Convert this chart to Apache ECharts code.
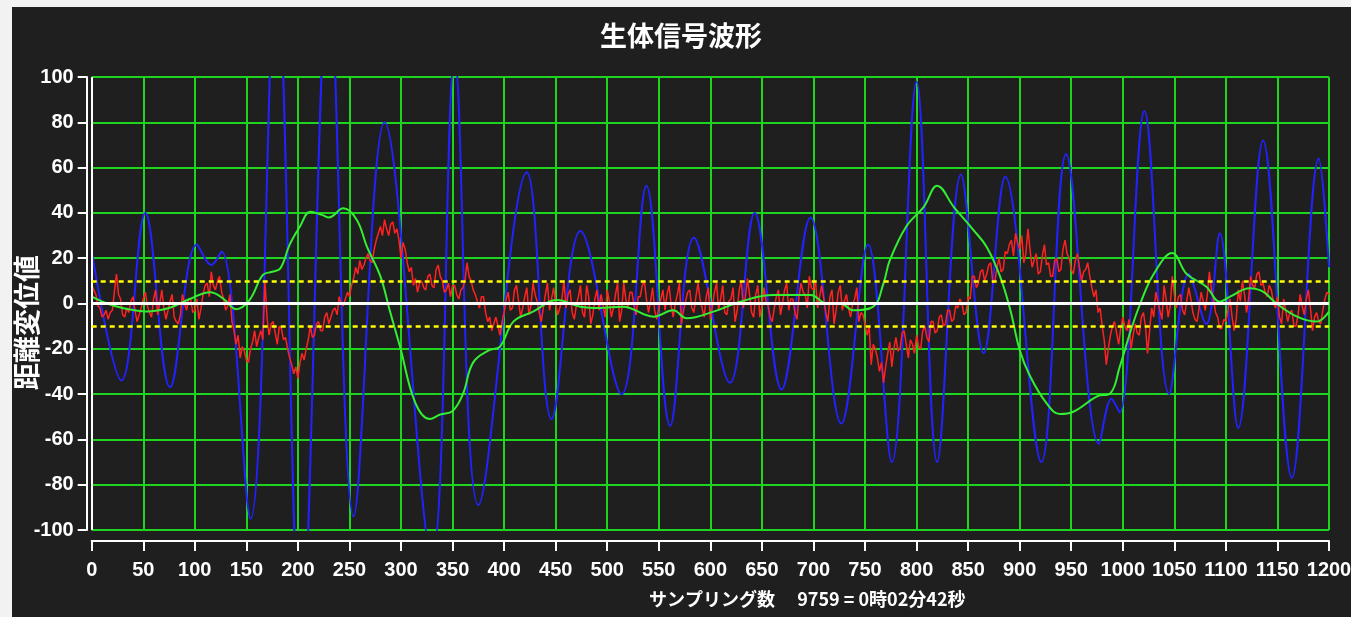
<!DOCTYPE html>
<html>
<head>
<meta charset="utf-8">
<script src="https://cdn.jsdelivr.net/npm/echarts@6/dist/echarts.min.js"></script>
<style>
html,body{margin:0;padding:0;background:#f2f2f2;}
#c{width:1351px;height:617px;}
</style>
</head>
<body>
<div id="c"></div>
<script>
// ---- data ----
const titleText = '生体信号波形';
const yName = '距離変位値';
const xName = 'サンプリング数　 9759 = 0時02分42秒';
const xMin = 0, xMax = 1200, xStep = 50;
const yMin = -100, yMax = 100, yStep = 20;
const zeroLine = 0;
const limitLines = [10, -10];

// blue: [sample, value] at turning points
const blue = [
  [0,23],[29,-34],[52,40],[76,-37],[102,26],[116,17],[126,23],[154,-95],[179,150],[203,-150],
  [230,145],[254,-94],[284,80],[330,-112],[352,108],[375,-89],[422,58],[446,-51],[474,32],[514,-40],
  [538,52],[561,-54],[584,29],[619,-35],[643,40],[669,-38],[697,38],[727,-53],[753,26],[776,-70],
  [800,98],[820,-70],[843,57],[865,-22],[886,56],[921,-70],[945,66],[977,-62],[989,-42],[997,-48],
  [1021,85],[1045,-40],[1064,13],[1081,-9],[1094,31],[1112,-55],[1136,72],[1164,-77],[1190,64],[1200,16]
];

// green: [sample, value]
const green = [
  [0,3],[15,0],[30,-2],[53,-3.5],[75,-2],[95,2],[115,5],[128,2],[140,-2.5],[153,1.5],[166,12.6],[175,14],
  [183,15.5],[192,26],[202,34],[212,40.5],[224,39],[230,38],[244,42],[257,37],[267,25],[280,12],[289,-3],
  [299,-19],[314,-44],[328,-51],[338,-49],[350,-47.5],[360,-40],[370,-26],[386,-20.5],[396,-19],[409,-8],
  [428,-3.6],[451,1.5],[474,-1.4],[493,-2],[515,-1.4],[545,-5.8],[564,-3],[577,-6.5],[603,-3.6],[629,0.8],
  [661,3.7],[697,3.7],[713,0],[726,0],[739,-3],[758,-1.4],[768,9],[774,19],[790,34],[807,42.7],[820,52],
  [836,42.7],[855,32.5],[868,25],[881,12],[891,-3],[900,-20.5],[910,-32],[926,-44],[939,-48.8],[952,-47.8],
  [975,-41],[988,-39.6],[997,-28],[1007,-13],[1017,0],[1030,13],[1048,22.3],[1062,13],[1081,7.4],[1094,0.8],
  [1104,3],[1123,6.7],[1136,5.2],[1149,0],[1169,-5.8],[1188,-8],[1200,-3.6]
];

// red: one value every redStep samples (0..1200)
const redStep = 2;
const red = [
  8,6,4,-1,-2,-6,-5,-3,-7,-4, -3,5,13,4,2,-5,-6,-2,-4,1, 3,-3,-8,-5,-2,2,5,-1,-4,-6, 2,6,-5,0,6,-2,-7,-3,1,4, -6,-8,-9,-5,4,0,-3,2,2,-4,
  -3,2,-7,-2,4,8,9,3,14,8, 6,10,12,5,2,-3,-1,4,-8,-12, -18,-14,-24,-19,-21,-25,-26,-20,-17,-12, -19,-15,-12,-16,10,-6,-14,-9,-8,-13, -18,-10,-11,-16,-15,-20,-24,-27,-31,-28,
  -33,-26,-22,-25,-20,-16,-10,-15,-14,-9, -8,-12,-12,-6,-4,-9,-6,-3,-2,-5, 3,0,-1,2,5,3,8,11,16,13, 19,15,17,20,22,19,18,24,28,31, 34,30,37,33,30,35,36,31,33,28,
  20,27,24,18,14,16,8,11,5,9, 10,7,6,12,13,8,7,15,17,12, 10,5,6,9,3,8,8,4,2,6, 7,10,18,12,10,6,4,1,-2,3, 3,-4,-8,-6,-12,-9,-6,-10,-14,-8,
  -4,2,5,-3,-2,6,8,1,-6,-2, 3,7,-5,-1,9,4,1,-4,-8,-2, 4,9,-3,2,7,0,-5,-2,2,10, -2,4,6,-4,-7,-1,3,8,-4,-6, 8,3,-9,-5,2,6,-3,4,-1,-6,
  6,1,-6,-2,4,9,-8,-3,9,2, -2,5,5,-1,-5,3,3,8,10,2, -4,1,7,-3,-7,-2,2,6,-3,4, 8,-1,-6,0,4,9,-9,-3,1,5, 6,-2,-4,3,9,2,-2,-6,3,7,
  -7,-1,5,9,-3,2,8,-4,-5,1, 2,7,-8,-3,6,10,-2,3,11,4, -4,-6,4,8,-6,-1,7,1,-1,-6, -8,-2,3,6,-5,0,6,9,-3,2, 2,-4,-7,3,9,5,4,-2,12,7,
  6,10,-2,3,8,2,-4,-8,3,6, -9,-3,5,8,-3,1,4,-2,-6,0, 2,7,-8,-4,-5,-9,-14,-10,-27,-18, -20,-24,-30,-26,-35,-28,-22,-17,-28,-20, -15,-21,-20,-13,-12,-18,-24,-16,-18,-22,
  -14,-19,-20,-12,-10,-15,-17,-8,-8,-13, -12,-6,-5,-10,-9,-3,-3,-8,-7,-1, -2,2,0,-5,-4,3,2,12,12,7, 9,14,15,10,13,17,18,9,10,16, 20,14,15,23,22,26,28,21,31,27,
  24,30,18,22,33,24,16,19,22,13, 14,21,26,17,18,12,12,19,20,14, 15,24,28,22,20,15,13,19,22,16, 10,14,15,18,12,7,3,6,-4,-2, -10,-16,-27,-20,-14,-10,-8,-13,-18,-11,
  -6,-10,-12,-7,-20,-14,-9,-13,-14,-6, -4,-10,-22,-12,-2,-6,5,1,-3,-7, 8,2,-6,-1,12,4,-2,3,4,-3, -5,1,7,2,-4,-7,-8,-2,5,1, -3,4,14,6,2,-4,-6,-11,-11,-7,
  -8,-3,2,-6,-12,-7,6,1,10,4, -4,2,12,8,7,13,14,8,9,5, 3,8,6,1,-2,3,-6,-9,2,-3, -8,-4,-3,-10,-10,-5,4,-1,-5,2, 6,-2,-12,-6,-4,-8,-9,-3,2,5,
  4
];

// ---- chart ----
const chart = echarts.init(document.getElementById('c'));
const axisFont = {color:'#ffffff', fontFamily:'"Liberation Sans",Arial,sans-serif', fontWeight:'bold', fontSize:20};
const gridGreen = '#1fd41f';

chart.setOption({
  backgroundColor:'#f2f2f2',
  animation:false,
  graphic:[{type:'rect', left:12, top:7, shape:{width:1339, height:610}, style:{fill:'#1f1f1f'}, z:-10, silent:true}],
  title:{
    text:titleText, left:681, top:22, textAlign:'center', padding:0,
    textStyle:{color:'#ffffff', fontSize:27, fontWeight:'bold', fontFamily:'"Noto Sans CJK JP",sans-serif'}
  },
  grid:{left:91.7, right:22, top:77, bottom:87, containLabel:false, outerBoundsMode:'none'},
  xAxis:{
    type:'value', min:xMin, max:xMax, interval:xStep, offset:11,
    name:xName, nameLocation:'middle', nameGap:49, nameMoveOverlap:false,
    nameTextStyle:{color:'#ffffff', fontSize:18, fontWeight:'bold', fontFamily:'"Noto Sans CJK JP",sans-serif', padding:[0,0,0,194]},
    axisLine:{show:true, onZero:false, lineStyle:{color:'#ffffff', width:2}},
    axisTick:{show:true, length:10, lineStyle:{color:'#ffffff', width:2}},
    axisLabel:Object.assign({margin:19, hideOverlap:false, showMinLabel:true, showMaxLabel:true, formatter:v=>String(v)}, axisFont),
    splitLine:{show:true, lineStyle:{color:gridGreen, width:2}}
  },
  yAxis:{
    type:'value', min:yMin, max:yMax, interval:yStep, offset:5,
    name:yName, nameLocation:'middle', nameGap:46, nameMoveOverlap:false,
    nameTextStyle:{color:'#ffffff', fontSize:27, fontWeight:'bold', fontFamily:'"Noto Sans CJK JP",sans-serif', padding:[0,38,0,0]},
    axisLine:{show:true, onZero:false, lineStyle:{color:'#ffffff', width:2}},
    axisTick:{show:true, length:9, lineStyle:{color:'#ffffff', width:2}},
    axisLabel:Object.assign({margin:13, formatter:v=>String(v)}, axisFont),
    splitLine:{show:true, lineStyle:{color:gridGreen, width:2}}
  },
  series:[
    {
      name:'ref', type:'line', data:[], silent:true,
      markLine:{
        silent:true, symbol:['none','none'], label:{show:false}, animation:false,
        data:[
          {xAxis:xMin, lineStyle:{color:'#ffffff', width:2, type:'solid'}},
          {yAxis:zeroLine, lineStyle:{color:'#ffffff', width:3, type:'solid'}},
          {yAxis:limitLines[0], lineStyle:{color:'#ffff00', width:2.5, type:[5,4]}},
          {yAxis:limitLines[1], lineStyle:{color:'#ffff00', width:2.5, type:[5,4]}}
        ]
      }
    },
    {
      name:'blue', type:'line', data:blue, smooth:0.38, showSymbol:false, clip:true,
      lineStyle:{color:'#2222ff', width:2}
    },
    {
      name:'red', type:'line', data:red.map((v,i)=>[i*redStep, v]), showSymbol:false, clip:true,
      lineStyle:{color:'#ff2222', width:1.5}
    },
    {
      name:'green', type:'line', data:green, smooth:0.4, showSymbol:false, clip:true,
      lineStyle:{color:'#33ee33', width:2}
    }
  ]
});
</script>
</body>
</html>
